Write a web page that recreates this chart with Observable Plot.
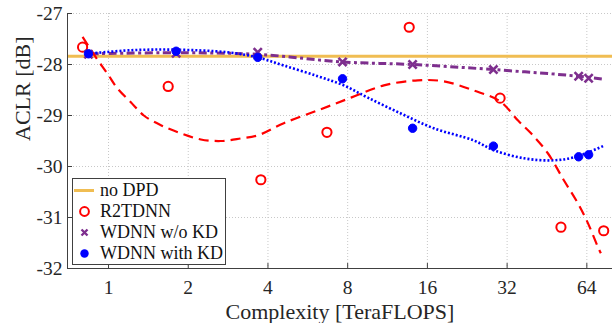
<!DOCTYPE html>
<html>
<head>
<meta charset="utf-8">
<script src="https://cdn.jsdelivr.net/npm/d3@7"></script>
<script src="https://cdn.jsdelivr.net/npm/@observablehq/plot@0.6"></script>
<style>
  body { margin: 0; background: white; }
  #wrap { position: relative; width: 616px; height: 323px; }
  #legend { position: absolute; left: 72px; top: 178px; width: 152px; height: 84px; border: 1px solid #404040; background: white; padding-top: 1px; box-sizing: content-box; }
  .row { height: 21px; line-height: 21px; display: flex; align-items: center; color: #111; }
  .row span { font-family: 'Liberation Serif', serif; font-size: 18px; white-space: nowrap; }
  .row svg { width: 27px; height: 21px; flex: none; }
</style>
</head>
<body>
<div id="wrap"></div>
<script>
// ---- data ----
const xTicks = [1, 2, 4, 8, 16, 32, 64];
const yTicks = [-32, -31, -30, -29, -28, -27];
const xDomain = [0.7, 80];
const yDomain = [-32, -27];

const noDPD = -27.84;

const r2Complexity = [0.798, 1.68, 3.76, 6.68, 13.66, 30.1, 51.1, 74.1];
const r2Aclr = [-27.66, -28.43, -30.26, -29.33, -27.27, -28.66, -31.19, -31.26];

const wdnnComplexity = [0.84, 1.8, 3.66, 7.65, 14.07, 28.4, 59.6, 65.0];
const woKdAclr = [-27.80, -27.78, -27.76, -27.95, -28.0, -28.10, -28.23, -28.27];
const withKdAclr = [-27.79, -27.74, -27.86, -28.28, -29.25, -29.60, -29.81, -29.77];

// fitted trend curves
const r2FitX = [0.798, 0.896, 0.991, 1.081, 1.214, 1.359, 1.576, 1.875, 2.232, 2.656, 3.16, 3.66, 4.59, 6.17, 8.23, 10.96, 14.73, 18.47, 23.98, 30.06, 35.2, 39.4, 45.6, 52.4, 59.2, 64.6, 70.5, 72.3];
const r2FitY = [-27.46, -27.86, -28.18, -28.47, -28.74, -29.0, -29.19, -29.35, -29.47, -29.50, -29.45, -29.39, -29.15, -28.90, -28.65, -28.41, -28.31, -28.33, -28.51, -28.72, -29.10, -29.35, -29.74, -30.27, -30.72, -31.11, -31.58, -31.70];

const kdFitX = [0.833, 1.214, 1.795, 2.815, 3.65, 4.59, 6.17, 7.74, 9.53, 12.7, 16.9, 23.98, 28.5, 37.1, 46.9, 57.3, 73.7];
const kdFitY = [-27.79, -27.72, -27.71, -27.76, -27.86, -28.02, -28.23, -28.41, -28.65, -28.96, -29.25, -29.49, -29.68, -29.84, -29.88, -29.82, -29.60];

const woFitX = [0.857, 1.765, 3.65, 7.65, 14.07, 28.5, 59.6, 74.3];
const woFitY = [-27.79, -27.77, -27.80, -27.95, -28.0, -28.10, -28.23, -28.29];

const colors = {noDPD: "#F0BD52", r2: "#ff0000", wo: "#7E2F8E", kd: "#0000ff"};
const legendLabels = ["no DPD", "R2TDNN", "WDNN w/o KD", "WDNN with KD"];

// ---- build tables ----
const zip = (xs, ys) => xs.map((x, i) => ({x, y: ys[i]}));
const r2Pts = zip(r2Complexity, r2Aclr);
const woPts = zip(wdnnComplexity, woKdAclr);
const kdPts = zip(wdnnComplexity, withKdAclr);
const r2Fit = zip(r2FitX, r2FitY);
const kdFit = zip(kdFitX, kdFitY);
const woFit = zip(woFitX, woFitY);

const axisColor = "#404040";
const gridStyle = {stroke: "#c8c8c8", strokeOpacity: 1, strokeDasharray: "1,2", strokeWidth: 1};

const chart = Plot.plot({
  width: 616,
  height: 323,
  marginLeft: 67,
  marginRight: 4,
  marginTop: 13,
  marginBottom: 55,
  style: {fontFamily: "'Liberation Serif', 'Times New Roman', serif", background: "white", color: "#262626"},
  x: {type: "log", base: 2, domain: xDomain, label: null},
  y: {domain: yDomain, label: null},
  marks: [
    Plot.gridX(xTicks, gridStyle),
    Plot.gridY(yTicks.slice(1), gridStyle),
    Plot.ruleY([noDPD], {stroke: colors.noDPD, strokeWidth: 3}),
    Plot.line(woFit, {x: "x", y: "y", stroke: colors.wo, strokeWidth: 3, strokeLinecap: "butt", strokeDasharray: "8,3.5,3,3.5", curve: "catmull-rom"}),
    Plot.line(kdFit, {x: "x", y: "y", stroke: colors.kd, strokeWidth: 2.6, strokeLinecap: "butt", strokeDasharray: "2,2", curve: "catmull-rom"}),
    Plot.line(r2Fit, {x: "x", y: "y", stroke: colors.r2, strokeWidth: 2.2, strokeLinecap: "butt", strokeDasharray: "10,6", curve: "catmull-rom"}),
    Plot.dot(r2Pts, {x: "x", y: "y", r: 4.6, stroke: colors.r2, strokeWidth: 2, fill: "none"}),
    Plot.dot(woPts, {x: "x", y: "y", symbol: "times", r: 3.8, stroke: colors.wo, strokeWidth: 2.6}),
    Plot.dot(kdPts, {x: "x", y: "y", r: 4.2, fill: colors.kd, stroke: colors.kd, strokeWidth: 1}),
    Plot.ruleX([xDomain[0]], {stroke: axisColor, strokeWidth: 1}),
    Plot.ruleY([yDomain[0]], {stroke: axisColor, strokeWidth: 1}),
    Plot.axisX(xTicks, {tickSize: -5, tickPadding: 17, fontSize: 19.5, stroke: axisColor, fill: "#262626", tickFormat: d => String(d), label: null}),
    Plot.axisY(yTicks, {tickSize: -5, tickPadding: 10, fontSize: 19.5, stroke: axisColor, fill: "#262626", tickFormat: d => String(d), label: null}),
    Plot.text(["Complexity [TeraFLOPS]"], {frameAnchor: "bottom", dy: 43, fontSize: 22, fill: "#262626", lineAnchor: "middle"}),
    Plot.text(["ACLR [dB]"], {frameAnchor: "left", dx: -45, rotate: -90, fontSize: 22, fill: "#262626", lineAnchor: "middle"})
  ]
});

const wrap = document.getElementById("wrap");
wrap.appendChild(chart);

// ---- legend (inside plot area, bottom-left) ----
const legend = document.createElement("div");
legend.id = "legend";
const symbols = [
  `<line x1="1" y1="10.5" x2="21" y2="10.5" stroke="${colors.noDPD}" stroke-width="3"/>`,
  `<circle cx="11.5" cy="10.5" r="4.4" fill="none" stroke="${colors.r2}" stroke-width="2"/>`,
  `<path d="M8.5,7.5L14.5,13.5M14.5,7.5L8.5,13.5" stroke="${colors.wo}" stroke-width="2.4"/>`,
  `<circle cx="11.5" cy="10.5" r="4.2" fill="${colors.kd}"/>`
];
legendLabels.forEach((lab, i) => {
  const row = document.createElement("div");
  row.className = "row";
  row.innerHTML = `<svg viewBox="0 0 27 21">${symbols[i]}</svg><span>${lab}</span>`;
  legend.appendChild(row);
});
wrap.appendChild(legend);
</script>
</body>
</html>
